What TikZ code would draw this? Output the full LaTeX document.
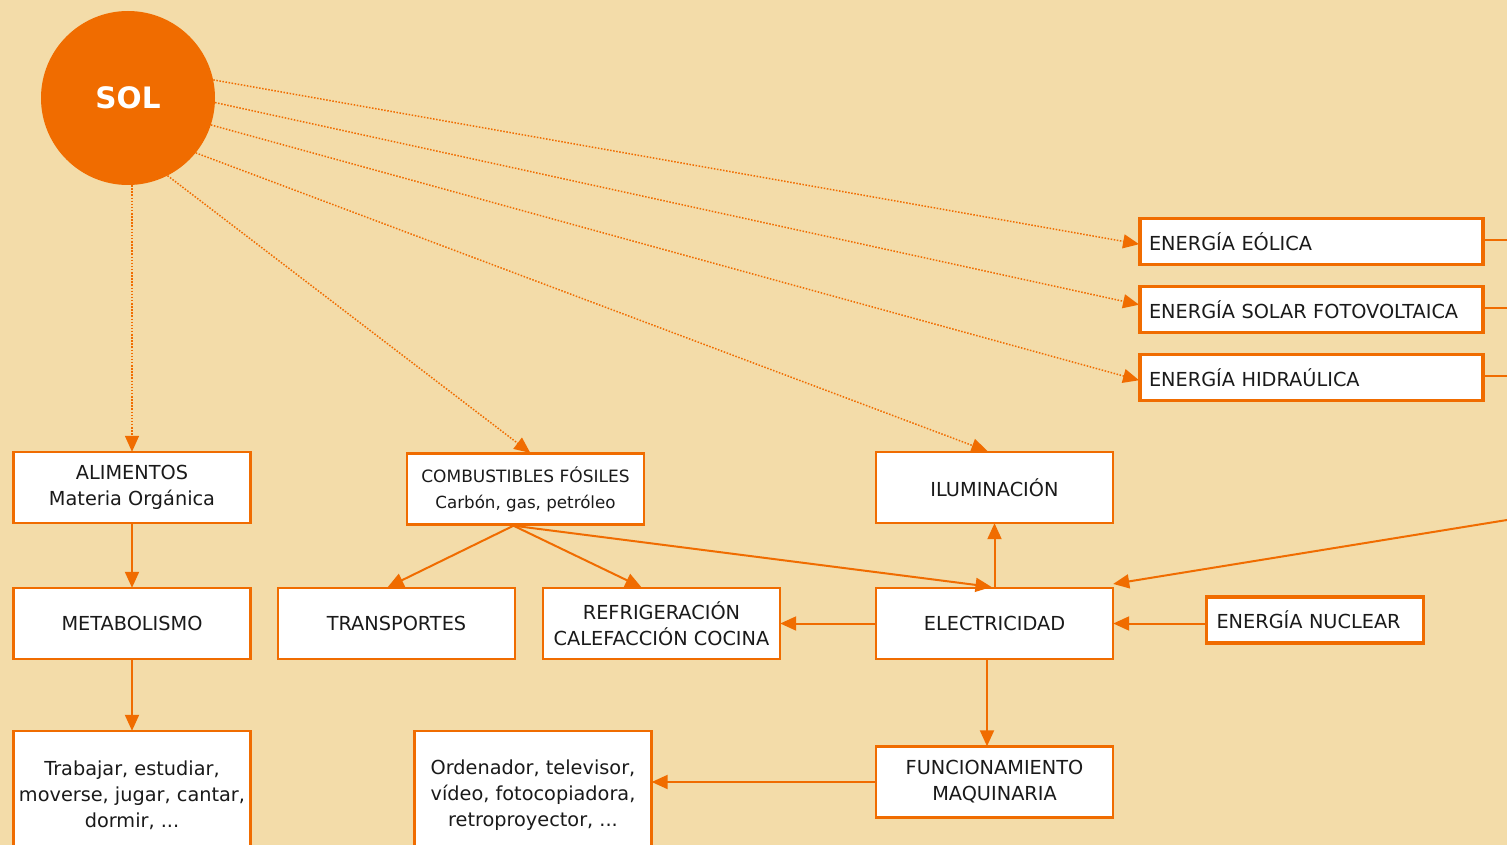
\documentclass[tikz,border=0pt]{standalone}
\usepackage{fontspec}
\setmainfont{DejaVu Sans}
\usetikzlibrary{arrows.meta}
\definecolor{bg}{HTML}{F3DCA9}
\definecolor{org}{HTML}{F06C00}
\definecolor{ink}{HTML}{1A1A1A}
\begin{document}
\begin{tikzpicture}[x=1pt,y=-1pt,
  box/.style={draw=org, line width=2.4pt, fill=white, minimum width=237pt, minimum height=71pt,
    inner sep=0pt, align=center, text=ink, font=\fontsize{19.3}{26}\selectfont},
  ebox/.style={draw=org, line width=3.8pt, fill=white, minimum height=46pt, inner xsep=9pt,
    inner ysep=0pt, align=left, text width=325pt, text=ink, font=\fontsize{19.3}{26}\selectfont},
  arr/.style={draw=org, line width=2pt, shorten >=-1pt, -{Triangle[length=16pt,width=14pt]}},
  dots/.style={arr, line width=1.5pt, dash pattern=on 1.5pt off 1.6pt},
  ln/.style={draw=org, line width=2pt}
]
\fill[bg] (0,0) rectangle (1507,845);
\useasboundingbox (0,0) rectangle (1507,845);
\clip (0,0) rectangle (1507,845);

% sun
\node[circle, fill=org, minimum size=174pt, inner sep=0pt, text=white,
  font=\fontsize{29.5}{29.5}\selectfont\bfseries] (sun) at (128,98) {SOL};

% energy sources
\node[ebox] (eol) at (1311.5,241.5) {ENERGÍA EÓLICA};
\node[ebox] (fot) at (1311.5,309.5) {ENERGÍA SOLAR FOTOVOLTAICA};
\node[ebox] (hid) at (1311.5,377.5) {ENERGÍA HIDRAÚLICA};
\node[ebox, text width=197pt, inner xsep=10pt] (nuc) at (1315,620) {ENERGÍA NUCLEAR};

% main boxes
\node[box] (alim) at (132,487.5) {ALIMENTOS\\Materia Orgánica};
\node[box] (comb) at (525.5,489) {{\fontsize{17}{22}\selectfont COMBUSTIBLES FÓSILES}\\{\fontsize{16.7}{22}\selectfont Carbón, gas, petróleo}};
\node[box] (ilum) at (994.5,487.5) {ILUMINACIÓN};
\node[box] (meta) at (132,623.5) {METABOLISMO};
\node[box] (tran) at (396.5,623.5) {TRANSPORTES};
\node[box] (refr) at (661.5,623.5) {REFRIGERACIÓN\\CALEFACCIÓN COCINA};
\node[box] (elec) at (994.5,623.5) {ELECTRICIDAD};
\node[box] (func) at (994.5,782) {FUNCIONAMIENTO\\MAQUINARIA};
\node[box, minimum height=128pt] (trab) at (132,795) {Trabajar, estudiar,\\moverse, jugar, cantar,\\dormir, ...};
\node[box, minimum height=128pt] (orde) at (533,795) {Ordenador, televisor,\\vídeo, fotocopiadora,\\retroproyector, ...};

% off-picture ends
\coordinate (edge) at (1510,0);
\coordinate (eleR) at (1510,519.5);

% sun rays
\draw[dots] (sun.south -| alim.north) -- (alim.north);
\draw[dots] (sun.-63) -- ([xshift=4pt]comb.north);
\draw[dots] (sun.-39) -- ([xshift=-8pt]ilum.north);
\draw[dots] (sun.-18) -- ([yshift=-2.5pt]hid.west);
\draw[dots] (sun.-3) -- ([yshift=5pt]fot.west);
\draw[dots] (sun.12) -- ([yshift=-2.5pt]eol.west);

% energy boxes leaving right
\draw[ln] ([yshift=2pt]eol.east) -- ([yshift=2pt]eol.east -| edge);
\draw[ln] ([yshift=2pt]fot.east) -- ([yshift=2pt]fot.east -| edge);
\draw[ln] ([yshift=2pt]hid.east) -- ([yshift=2pt]hid.east -| edge);

% solid arrows
\draw[arr] (alim.south) -- (meta.north);
\draw[arr] (meta.south) -- (trab.north);
\draw[arr] ([xshift=-12pt]comb.south) -- ([xshift=-8pt]tran.north);
\draw[arr] ([xshift=-12pt]comb.south) -- ([xshift=-21pt]refr.north);
\draw[arr] ([xshift=-12pt]comb.south) -- ([xshift=-4pt]elec.north);
\draw[arr] (elec.north) -- (ilum.south);
\draw[arr] (elec.west) -- (refr.east);
\draw[arr] (nuc.west |- elec.east) -- (elec.east);
\draw[arr] (eleR) -- ([yshift=3pt]elec.north east);
\draw[arr] ([xshift=-7.5pt]elec.south) -- ([xshift=-7.5pt]func.north);
\draw[arr] (func.west) -- (orde.east |- func.west);
\end{tikzpicture}
\end{document}
